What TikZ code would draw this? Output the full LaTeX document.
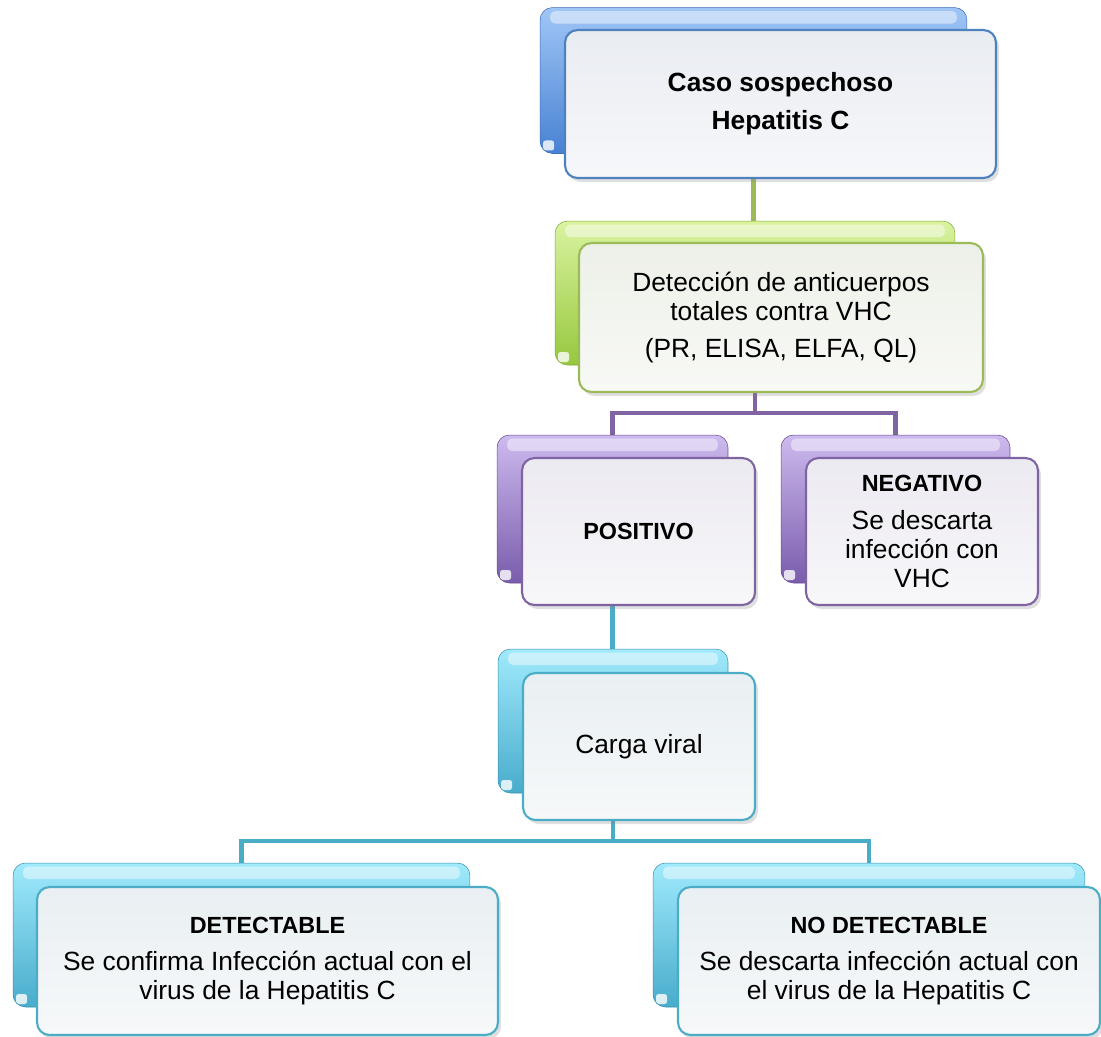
\documentclass[tikz,border=0pt]{standalone}
\usepackage{fontspec}
\setmainfont{Liberation Sans}
\usetikzlibrary{positioning, shadows, backgrounds, calc}

\definecolor{bluetop}{RGB}{160,198,246}
\definecolor{bluebot}{RGB}{72,130,212}
\definecolor{blueedge}{RGB}{79,129,189}
\definecolor{blueface}{RGB}{233,236,242}
\definecolor{greentop}{RGB}{218,243,160}
\definecolor{greenbot}{RGB}{150,200,62}
\definecolor{greenedge}{RGB}{155,187,89}
\definecolor{greenface}{RGB}{237,240,232}
\definecolor{purpletop}{RGB}{205,186,238}
\definecolor{purplebot}{RGB}{122,92,172}
\definecolor{purpleedge}{RGB}{128,100,162}
\definecolor{purpleface}{RGB}{236,234,241}
\definecolor{cyantop}{RGB}{160,234,252}
\definecolor{cyanbot}{RGB}{72,172,204}
\definecolor{cyanedge}{RGB}{75,172,198}
\definecolor{cyanface}{RGB}{233,239,242}

\begin{document}
\begin{tikzpicture}[
    x=0.02cm, y=-0.02cm,
    font=\fontsize{15}{16.5}\selectfont,
    backbox/.style={rounded corners=0.25cm, top color=#1top, bottom color=#1bot,
        draw=#1bot!85!black, line width=0.3pt,
        path picture={\fill[white, opacity=0.45, rounded corners=0.1cm]
            ($(path picture bounding box.north west)+(0.2cm,-0.07cm)$) rectangle
            ($(path picture bounding box.north east)+(-0.2cm,-0.32cm)$);
            \fill[white, opacity=0.8, rounded corners=0.05cm]
            ($(path picture bounding box.south west)+(0.06cm,0.06cm)$) rectangle
            ($(path picture bounding box.south west)+(0.28cm,0.26cm)$);}},
    frontbox/.style={rounded corners=0.25cm, draw=#1edge, line width=1.2pt,
        top color=#1face, bottom color=#1face!40!white, align=center,
        drop shadow={shadow xshift=0.06cm, shadow yshift=-0.08cm, opacity=0.25}},
    link/.style={draw=#1edge, line width=2.3pt},
    lbl/.style={font=\fontsize{13.3}{16.5}\selectfont\bfseries}
]
\useasboundingbox (0,0) rectangle (1101,1036);

% Caso sospechoso
\node[backbox=blue, minimum width=8.54cm, minimum height=2.92cm] (caso-b) at (753.5,80.5) {};
\node[frontbox=blue, minimum width=8.62cm, minimum height=2.96cm] (caso) at (780.5,104)
    {\bfseries Caso sospechoso\\[5pt]\bfseries Hepatitis C};

% Deteccion de anticuerpos
\node[backbox=green, minimum width=8cm, minimum height=2.88cm] (deteccion-b) at (755,293) {};
\node[frontbox=green, minimum width=8.08cm, minimum height=2.98cm] (deteccion) at (781,317.5)
    {Detecci\'on de anticuerpos\\totales contra VHC\\[5pt](PR, ELISA, ELFA, QL)};

% Resultados
\node[backbox=purple, minimum width=4.62cm, minimum height=2.96cm] (positivo-b) at (612.5,509) {};
\node[frontbox=purple, minimum width=4.66cm, minimum height=2.94cm] (positivo) at (638.5,531.5)
    {\textbf{\fontsize{13.3}{16.5}\selectfont POSITIVO}};
\node[backbox=purple, minimum width=4.58cm, minimum height=2.96cm] (negativo-b) at (895.5,509) {};
\node[frontbox=purple, minimum width=4.64cm, minimum height=2.94cm] (negativo) at (922,531.5)
    {\textbf{\fontsize{13.3}{16.5}\selectfont NEGATIVO}\\[5pt]Se descarta\\infecci\'on con\\VHC};

% Carga viral
\node[backbox=cyan, minimum width=4.6cm, minimum height=2.88cm] (carga-b) at (613,721) {};
\node[frontbox=cyan, minimum width=4.64cm, minimum height=2.94cm] (carga) at (639,746.5) {Carga viral};

\node[backbox=cyan, minimum width=9.14cm, minimum height=2.88cm] (detectable-b) at (241.5,935) {};
\node[frontbox=cyan, minimum width=9.22cm, minimum height=2.96cm] (detectable) at (267.5,961)
    {\textbf{\fontsize{13.3}{16.5}\selectfont DETECTABLE}\\[5pt]Se confirma Infecci\'on actual con el\\virus de la Hepatitis C};
\node[backbox=cyan, minimum width=8.64cm, minimum height=2.88cm] (nodetect-b) at (869,935) {};
\node[frontbox=cyan, minimum width=8.44cm, minimum height=2.96cm] (nodetect) at (889,961)
    {\textbf{\fontsize{13.3}{16.5}\selectfont NO DETECTABLE}\\[5pt]Se descarta infecci\'on actual con\\el virus de la Hepatitis C};

% Connectors
\begin{scope}[on background layer]
\draw[link=green] (caso-b.south) -- (caso-b.south |- deteccion-b.north);
\draw[link=purple] (deteccion-b.south) -- ++(0,48) -| (positivo-b.north);
\draw[link=purple] (deteccion-b.south) -- ++(0,48) -| (negativo-b.north);
\draw[link=cyan] (positivo-b.south) -- (positivo-b.south |- carga-b.north);
\draw[link=cyan] (carga-b.south) -- ++(0,48) -| (detectable-b.north);
\draw[link=cyan] (carga-b.south) -- ++(0,48) -| (nodetect-b.north);
\end{scope}

\end{tikzpicture}
\end{document}
